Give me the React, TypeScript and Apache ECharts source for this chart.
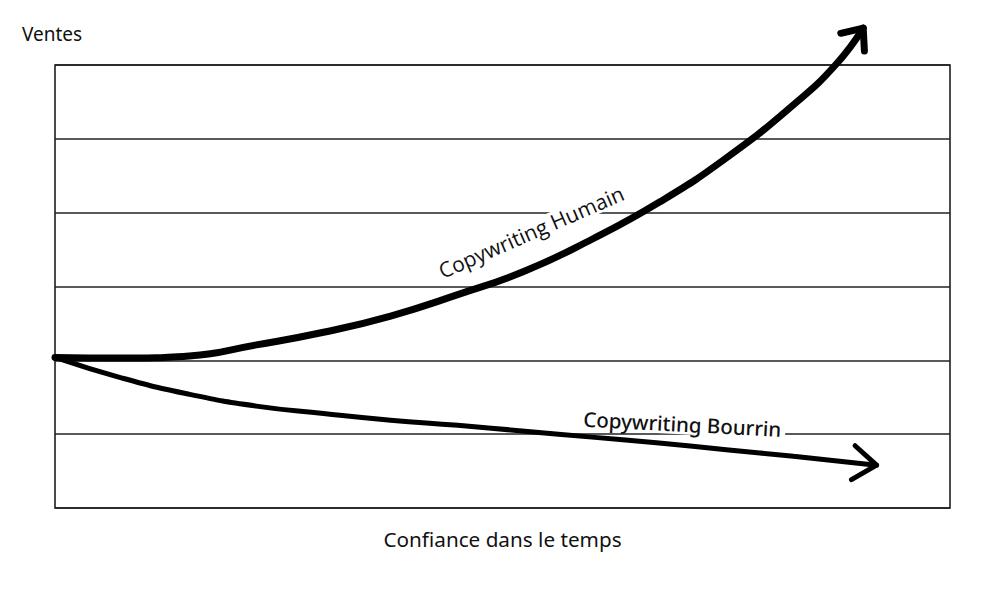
import React, { useEffect, useRef } from "react";
import * as echarts from "echarts";

// Curves (x: time 0..100, y: sales 0..6)
const humainX = [0, 7.5, 15, 22.5, 30, 37.5, 45, 52.5, 60, 67.5, 75, 82.5, 87.2, 90.3];
const humainY = [2.04, 2.03, 2.06, 2.21, 2.38, 2.6, 2.89, 3.21, 3.64, 4.14, 4.74, 5.46, 6.0, 6.5];
const bourrinX = [0, 7.5, 15, 22.5, 30, 37.5, 45, 52.5, 60, 67.5, 75, 82.5, 91.8];
const bourrinY = [2.04, 1.76, 1.54, 1.38, 1.28, 1.19, 1.12, 1.04, 0.96, 0.88, 0.79, 0.7, 0.58];

const seriesNames = ["Copywriting Humain", "Copywriting Bourrin"];
const axisNames = { x: "Confiance dans le temps", y: "Ventes" };
const yTicks = [0, 1, 2, 3, 4, 5, 6];

// label anchors (data units)
const humainLabelAt = [53.2, 3.74];
const bourrinLabelAt = [70.1, 1.14];

const pairs = (xs: number[], ys: number[]) => xs.map((x, i) => [x, ys[i]]);

function arrowSeries(xs: number[], ys: number[], len: number, spread: number, width: number) {
  const n = xs.length;
  return {
    type: "custom",
    z: 4,
    silent: true,
    clip: false,
    data: [[xs[n - 1], ys[n - 1], xs[n - 2], ys[n - 2]]],
    renderItem: (params: any, api: any) => {
      const tip = api.coord([api.value(0), api.value(1)]);
      const prev = api.coord([api.value(2), api.value(3)]);
      const ang = Math.atan2(tip[1] - prev[1], tip[0] - prev[0]);
      const back = ang + Math.PI;
      const s = (spread * Math.PI) / 180;
      const p1 = [tip[0] + len * Math.cos(back + s), tip[1] + len * Math.sin(back + s)];
      const p2 = [tip[0] + len * Math.cos(back - s), tip[1] + len * Math.sin(back - s)];
      return {
        type: "polyline",
        shape: { points: [p1, tip, p2] },
        style: { stroke: "#000", lineWidth: width, fill: null, lineCap: "round", lineJoin: "round" },
      };
    },
  };
}

function labelSeries(at: number[], text: string, rotDeg: number, font: string, size: number, weight: number) {
  return {
    type: "custom",
    z: 2,
    silent: true,
    clip: false,
    data: [at],
    renderItem: (params: any, api: any) => {
      const p = api.coord([api.value(0), api.value(1)]);
      return {
        type: "text",
        x: p[0],
        y: p[1],
        rotation: (rotDeg * Math.PI) / 180,
        style: {
          text,
          x: 0,
          y: 0,
          align: "center",
          verticalAlign: "middle",
          fontSize: size,
          fontFamily: font,
          fontWeight: weight,
          fill: "#111",
          backgroundColor: "#fff",
          padding: [0, 4, 0, 4],
        },
      };
    },
  };
}

export default function App() {
  const ref = useRef<HTMLDivElement>(null);
  useEffect(() => {
    document.body.style.margin = "0";
    const chart = echarts.init(ref.current!, null, { renderer: "svg" });
    chart.setOption({
      animation: false,
      backgroundColor: "#fff",
      grid: {
        left: 55,
        right: 50,
        top: 65,
        bottom: 83,
        show: true,
        borderColor: "#111",
        borderWidth: 1.5,
      },
      xAxis: {
        type: "value",
        min: 0,
        max: 100,
        axisLine: { show: false },
        axisTick: { show: false },
        axisLabel: { show: false },
        splitLine: { show: false },
        name: axisNames.x,
        nameLocation: "middle",
        nameGap: 20,
        nameTextStyle: { fontSize: 20.7, color: "#111", fontFamily: "Noto Sans" },
      },
      yAxis: {
        type: "value",
        min: yTicks[0],
        max: yTicks[yTicks.length - 1],
        interval: 1,
        axisLine: { show: false },
        axisTick: { show: false },
        axisLabel: { show: false },
        splitLine: { show: true, lineStyle: { color: "#222", width: 1.5 } },
        name: axisNames.y,
        nameLocation: "end",
        nameGap: 22,
        nameTextStyle: { fontSize: 19, color: "#111", fontFamily: "Noto Sans", padding: [0, 6, 0, 0] },
      },
      series: [
        labelSeries(humainLabelAt, seriesNames[0], 23.5, "Open Sans", 21, 500),
        labelSeries(bourrinLabelAt, seriesNames[1], -3, "Noto Sans", 20.5, 500),
        {
          type: "line",
          name: seriesNames[0],
          z: 3,
          data: pairs(humainX, humainY),
          smooth: 0.5,
          symbol: "none",
          clip: false,
          lineStyle: { color: "#000", width: 7, cap: "round", join: "round" },
        },
        {
          type: "line",
          name: seriesNames[1],
          z: 3,
          data: pairs(bourrinX, bourrinY),
          smooth: 0.5,
          symbol: "none",
          clip: false,
          lineStyle: { color: "#000", width: 5, cap: "round", join: "round" },
        },
        arrowSeries(humainX, humainY, 23, 40, 7),
        arrowSeries(bourrinX, bourrinY, 29, 36, 5),
      ],
    });
    return () => chart.dispose();
  }, []);
  return <div ref={ref} style={{ position: "absolute", left: 0, top: 0, width: 1000, height: 591 }} />;
}
